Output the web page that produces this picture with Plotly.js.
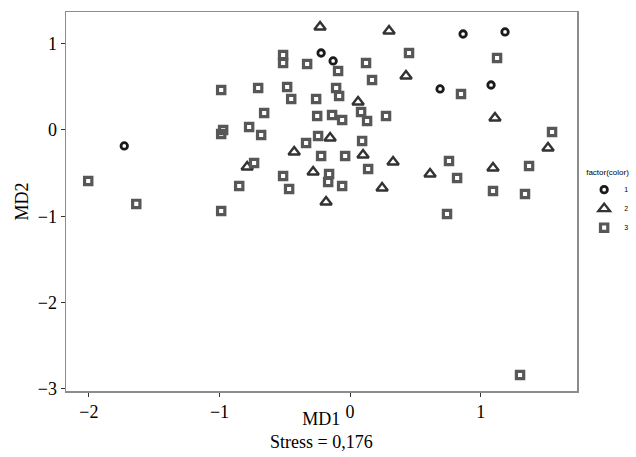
<!DOCTYPE html>
<html>
<head>
<meta charset="utf-8">
<script src="https://cdn.plot.ly/plotly-3.0.1.min.js"></script>
<style>html,body{margin:0;padding:0;background:#fff;}#chart{width:636px;height:457px;}</style>
</head>
<body>
<div id="chart"></div>
<script>
// Group 1 (circles)
var g1x = [-1.729, -0.222, -0.130, 0.689, 0.865, 1.186, 1.079];
var g1y = [-0.185, 0.892, 0.800, 0.475, 1.112, 1.136, 0.521];
// Group 2 (triangles)
var g2x = [-0.230, 0.298, 0.428, 0.061, 1.109, 1.515, -0.428, -0.153, -0.788, 0.099, 0.329, 1.094, 0.612, -0.283, -0.184, 0.245];
var g2y = [1.194, 1.147, 0.626, 0.324, 0.139, -0.209, -0.255, -0.093, -0.429, -0.290, -0.371, -0.440, -0.510, -0.487, -0.834, -0.672];
// Group 3 (squares)
var g3x = [-2.005, -1.637, -0.987, -0.972, -0.987, -0.773, -0.681, -0.704, -0.513, -0.513, -0.329, -0.482, -0.451, -0.658, -0.260, -0.252, -0.092, 0.122, 0.168, 0.451, -0.107, -0.084, -0.138, -0.061, 0.084, 0.130, 0.275, -0.245, -0.337, 0.092, -0.222, -0.038, -0.735, -0.849, -0.987, -0.513, -0.467, -0.161, -0.168, -0.061, 0.138, 0.757, 0.819, 1.370, 1.094, 1.339, 0.742, 1.125, 0.849, 1.546, 1.301];
var g3y = [-0.591, -0.857, 0.463, 0.000, -0.046, 0.035, -0.058, 0.487, 0.869, 0.776, 0.765, 0.498, 0.359, 0.197, 0.359, 0.162, 0.684, 0.776, 0.579, 0.892, 0.487, 0.394, 0.174, 0.116, 0.209, 0.104, 0.162, -0.070, -0.151, -0.127, -0.301, -0.301, -0.382, -0.649, -0.939, -0.533, -0.684, -0.510, -0.603, -0.649, -0.452, -0.359, -0.556, -0.417, -0.707, -0.742, -0.973, 0.834, 0.417, -0.023, -2.839];
var groupNames = ['1', '2', '3'];
var xTicks = [-2, -1, 0, 1];
var yTicks = [-3, -2, -1, 0, 1];
var xTitle = 'MD1';
var subTitle = 'Stress = 0,176';
var yTitle = 'MD2';

var serif = 'Liberation Serif, Times New Roman, serif';
var sans = 'Liberation Sans, Arial, sans-serif';
function fmt(v) { return v < 0 ? '\u2212' + Math.abs(v) : String(v); }

var traces = [
  {x: g1x, y: g1y, name: groupNames[0], type: 'scatter', mode: 'markers',
   marker: {symbol: 'circle-open', size: 6.5, color: '#1a1a1a', line: {width: 2.8, color: '#1a1a1a'}}},
  {x: g2x, y: g2y, name: groupNames[1], type: 'scatter', mode: 'markers',
   marker: {symbol: 'triangle-up-open', size: 10, color: '#333333', line: {width: 2.4, color: '#333333'}}},
  {x: g3x, y: g3y, name: groupNames[2], type: 'scatter', mode: 'markers',
   marker: {symbol: 'square-open', size: 7.3, color: '#575757', line: {width: 3.2, color: '#575757'}}}
];

var layout = {
  width: 636, height: 457,
  paper_bgcolor: '#ffffff', plot_bgcolor: '#ffffff',
  margin: {l: 66, r: 59, t: 12, b: 66, pad: 0, autoexpand: false},
  showlegend: true,
  legend: {
    x: 1.014, xanchor: 'left', y: 0.597, yanchor: 'top',
    title: {text: 'factor(color)', font: {family: sans, size: 8, color: '#000'}},
    font: {family: sans, size: 7, color: '#000'},
    itemwidth: 30, tracegroupgap: 0, bgcolor: 'rgba(0,0,0,0)'
  },
  xaxis: {
    range: [-2.175, 1.737], tickvals: xTicks, ticktext: xTicks.map(fmt),
    showgrid: false, zeroline: false,
    showline: true, mirror: true, linecolor: '#8c8c8c', linewidth: 1.5,
    ticks: 'outside', ticklen: 4, tickwidth: 1, tickcolor: '#333',
    tickfont: {family: serif, size: 18, color: '#000'},
    automargin: false
  },
  yaxis: {
    range: [-3.025, 1.367], tickvals: yTicks, ticktext: yTicks.map(fmt),
    showgrid: false, zeroline: false,
    showline: true, mirror: true, linecolor: '#8c8c8c', linewidth: 1.5,
    ticks: 'outside', ticklen: 4, tickwidth: 1, tickcolor: '#333',
    tickfont: {family: serif, size: 18, color: '#000'},
    title: {text: yTitle, font: {family: serif, size: 18, color: '#000'}, standoff: 4},
    automargin: false
  },
  annotations: [
    {text: xTitle + '<br>' + subTitle, xref: 'paper', yref: 'paper', x: 0.5, y: -0.043,
     xanchor: 'center', yanchor: 'top', showarrow: false,
     font: {family: serif, size: 18, color: '#000'}}
  ]
};

Plotly.newPlot('chart', traces, layout, {displayModeBar: false, staticPlot: true});
</script>
</body>
</html>
